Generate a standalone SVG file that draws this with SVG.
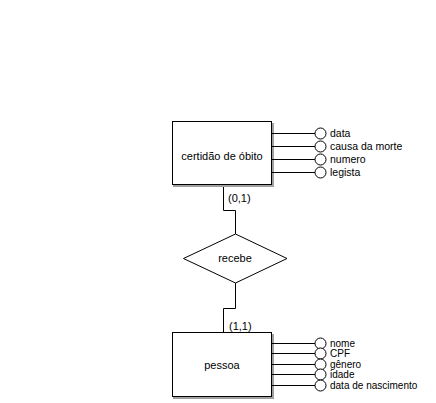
<svg xmlns="http://www.w3.org/2000/svg" width="436" height="403" viewBox="0 0 436 403">
<style>
.ent{fill:#fff;stroke:#000;stroke-width:1}
.sh{fill:none;stroke:#a0a0a0;stroke-width:2}
.ln{fill:none;stroke:#000;stroke-width:1}
.at{fill:#fff;stroke:#000;stroke-width:1}
text{font-family:"Liberation Sans",Arial,sans-serif;font-size:11px;fill:#000}
.c{text-anchor:middle}
.a{font-size:10.5px}
.b{font-size:10px}
</style>
<rect width="436" height="403" fill="#fff"/>
<g id="connectors">
<polyline class="ln" points="223.5,185 223.5,210.5 235.5,210.5 235.5,234"/>
<polyline class="ln" points="235.5,283 235.5,308.5 223.5,308.5 223.5,333"/>
<text x="228" y="202">(0,1)</text>
<text x="229" y="330">(1,1)</text>
</g>
<g id="certidao">
<polyline class="sh" points="273,123 273,186 173,186"/>
<rect class="ent" x="172.5" y="121.5" width="99" height="63"/>
<text class="c" x="222" y="160">certidão de óbito</text>
</g>
<g id="certidao-attrs">
<line class="ln" x1="272" y1="133.5" x2="315" y2="133.5"/>
<line class="ln" x1="272" y1="146.5" x2="315" y2="146.5"/>
<line class="ln" x1="272" y1="159.5" x2="315" y2="159.5"/>
<line class="ln" x1="272" y1="172.5" x2="315" y2="172.5"/>
<circle class="at" cx="320.5" cy="133.5" r="5.5"/>
<circle class="at" cx="320.5" cy="146.5" r="5.5"/>
<circle class="at" cx="320.5" cy="159.5" r="5.5"/>
<circle class="at" cx="320.5" cy="172.5" r="5.5"/>
<text class="a" x="330" y="137">data</text>
<text class="a" x="330" y="150">causa da morte</text>
<text class="a" x="330" y="163">numero</text>
<text class="a" x="330" y="176">legista</text>
</g>
<g id="recebe">
<polygon class="at" points="235.5,234 287,258.5 235.5,283 183.5,258.5"/>
<text class="c" x="235" y="262">recebe</text>
</g>
<g id="pessoa">
<polyline class="sh" points="273,334 273,398 173,398"/>
<rect class="ent" x="172.5" y="332.5" width="99" height="64"/>
<text class="c" x="222" y="369">pessoa</text>
</g>
<g id="pessoa-attrs">
<line class="ln" x1="272" y1="343.5" x2="315" y2="343.5"/>
<line class="ln" x1="272" y1="353.5" x2="315" y2="353.5"/>
<line class="ln" x1="272" y1="364.5" x2="315" y2="364.5"/>
<line class="ln" x1="272" y1="374.5" x2="315" y2="374.5"/>
<line class="ln" x1="272" y1="385.5" x2="315" y2="385.5"/>
<circle class="at" cx="320.5" cy="343.5" r="5.5"/>
<circle class="at" cx="320.5" cy="353.5" r="5.5"/>
<circle class="at" cx="320.5" cy="364.5" r="5.5"/>
<circle class="at" cx="320.5" cy="374.5" r="5.5"/>
<circle class="at" cx="320.5" cy="385.5" r="5.5"/>
<text class="b" x="330" y="346.5">nome</text>
<text class="b" x="330" y="357">CPF</text>
<text class="b" x="330" y="367.5">gênero</text>
<text class="b" x="330" y="378">idade</text>
<text class="b" x="330" y="389">data de nascimento</text>
</g>
</svg>
